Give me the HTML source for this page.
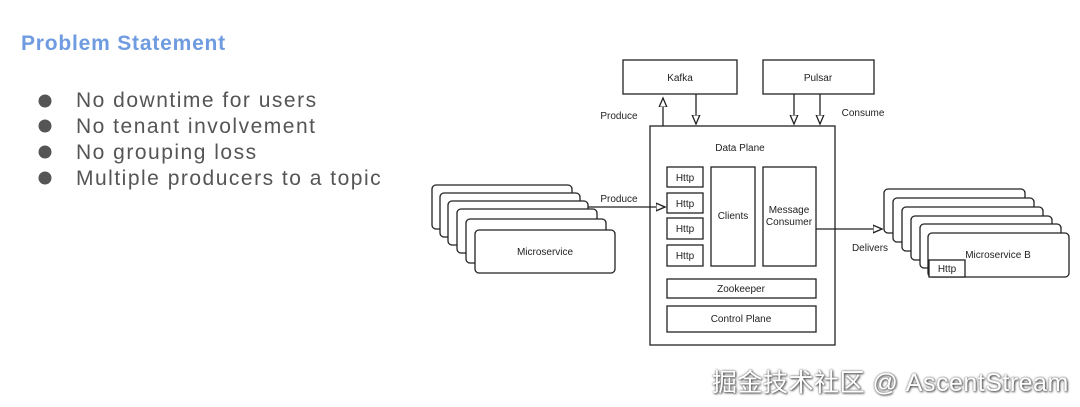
<!DOCTYPE html>
<html><head><meta charset="utf-8"><style>
html,body{margin:0;padding:0;background:#fff;}
body{width:1080px;height:407px;overflow:hidden;position:relative;font-family:"Liberation Sans",sans-serif;}
.t{position:absolute;white-space:nowrap;}
</style></head><body>
<div class="t" style="left:21px;top:32px;font-size:21px;font-weight:bold;color:#6f9be0;letter-spacing:0.8px;">Problem Statement</div>
<div class="t" style="left:76px;top:88px;font-size:21px;color:#555;line-height:26px;letter-spacing:1.5px;">No downtime for users<br>No tenant involvement<br>No grouping loss<br>Multiple producers to a topic</div>
<svg width="1080" height="407" style="position:absolute;left:0;top:0" font-family="Liberation Sans,sans-serif" font-size="10" fill="none" stroke="#222" stroke-width="1.3">
<g fill="#555" stroke="none"><circle cx="45" cy="101" r="6.5"/><circle cx="45" cy="126" r="6.5"/><circle cx="45" cy="152" r="6.5"/><circle cx="45" cy="178" r="6.5"/></g>
<defs><marker id="a" markerWidth="8" markerHeight="8" refX="7" refY="4" orient="auto"><path d="M0,1 L7,4 L0,7 z" fill="#fff" stroke="#222" stroke-width="1"/></marker></defs>
<rect x="623" y="60" width="114" height="34"/>
<rect x="763" y="60" width="111" height="34"/>
<rect x="650" y="126" width="185" height="219"/>
<rect x="667" y="167" width="36" height="20"/><rect x="667" y="193" width="36" height="20"/><rect x="667" y="218" width="36" height="21"/><rect x="667" y="245" width="36" height="21"/>
<rect x="711" y="167" width="44" height="99"/><rect x="763" y="167" width="53" height="99"/>
<rect x="667" y="279" width="149" height="19"/><rect x="667" y="306" width="149" height="26"/>
<line x1="663" y1="126" x2="663" y2="98" marker-end="url(#a)"/>
<line x1="696" y1="94" x2="696" y2="124" marker-end="url(#a)"/>
<line x1="794" y1="94" x2="794" y2="124" marker-end="url(#a)"/>
<line x1="820" y1="94" x2="820" y2="124" marker-end="url(#a)"/>
<line x1="588" y1="207" x2="665" y2="207" marker-end="url(#a)"/>
<line x1="816" y1="229" x2="882" y2="229" marker-end="url(#a)"/>
<g fill="#fff">
<rect x="432" y="185" width="140" height="44" rx="4"/><rect x="440" y="193" width="140" height="44" rx="4"/><rect x="448" y="201" width="140" height="44" rx="4"/><rect x="457" y="209" width="140" height="44" rx="4"/><rect x="466" y="219" width="140" height="44" rx="4"/><rect x="475" y="230" width="140" height="43" rx="4"/>
<rect x="884" y="189" width="141" height="44" rx="4"/><rect x="893" y="198" width="141" height="44" rx="4"/><rect x="902" y="207" width="141" height="44" rx="4"/><rect x="911" y="216" width="141" height="44" rx="4"/><rect x="920" y="224" width="141" height="44" rx="4"/><rect x="928" y="233" width="141" height="44" rx="4"/>
<rect x="929" y="260" width="36" height="17"/>
</g>
<g fill="#222" stroke="none" text-anchor="middle">
<text x="680" y="81">Kafka</text><text x="818" y="81">Pulsar</text>
<text x="740" y="151">Data Plane</text>
<text x="685" y="181">Http</text><text x="685" y="207">Http</text><text x="685" y="232">Http</text><text x="685" y="259">Http</text>
<text x="733" y="219">Clients</text>
<text x="789" y="213">Message</text><text x="789" y="225">Consumer</text>
<text x="741" y="292">Zookeeper</text><text x="741" y="322">Control Plane</text>
<text x="545" y="255">Microservice</text>
<text x="998" y="258">Microservice B</text>
<text x="947" y="272">Http</text>
<text x="619" y="119">Produce</text><text x="619" y="202">Produce</text>
<text x="863" y="116">Consume</text><text x="870" y="251">Delivers</text>
</g>
</svg>
<div class="t" style="left:712px;top:363px;font-size:25px;letter-spacing:0.5px;color:#fff;text-shadow:0 0 2px #555,1px 1px 2px #444;font-family:'Liberation Sans','Noto Sans CJK SC',sans-serif;">掘金技术社区 @ AscentStream</div>
</body></html>
